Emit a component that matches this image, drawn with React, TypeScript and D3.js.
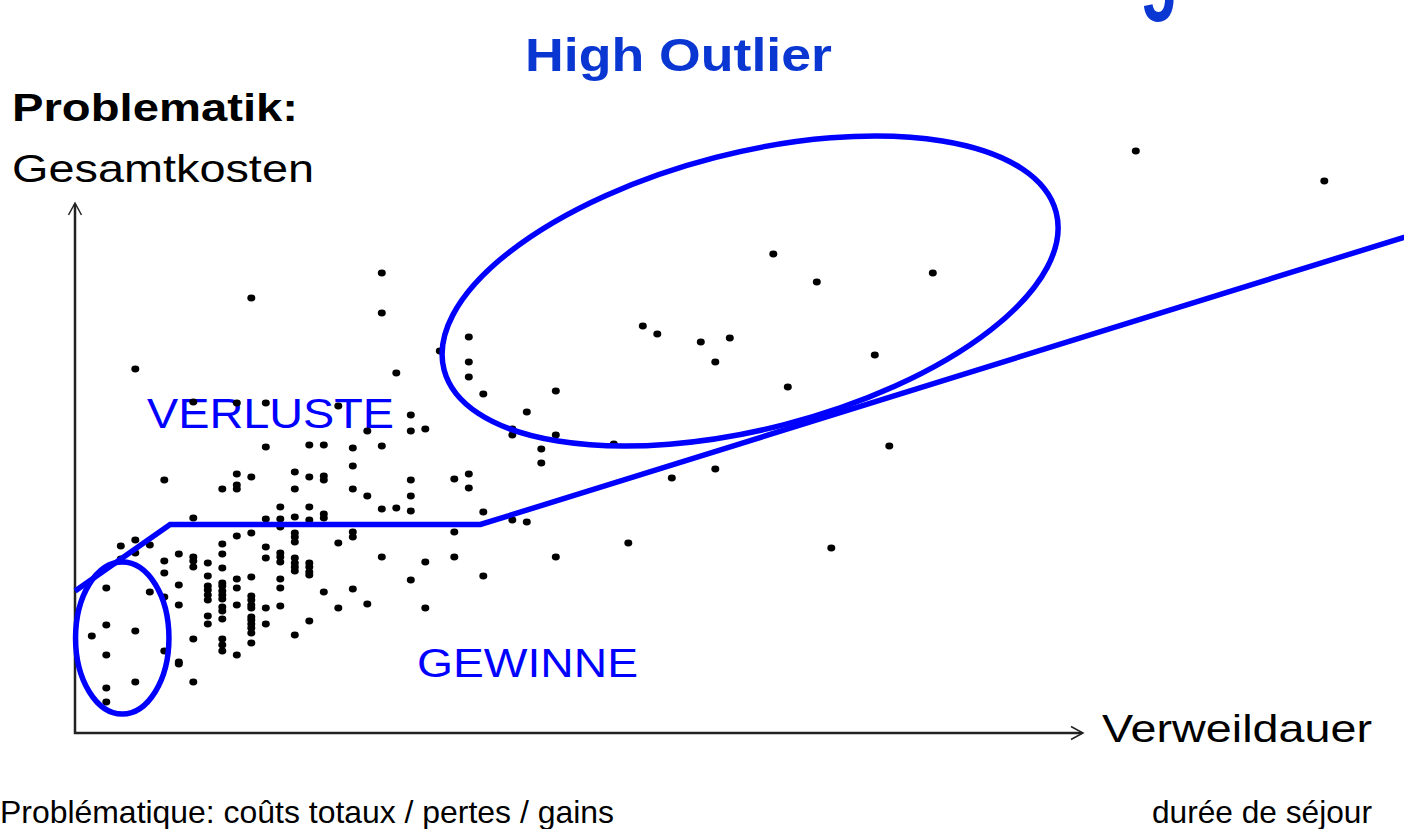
import { useEffect, useRef } from "react";
import * as d3 from "d3";

// Fälle: Verweildauer (Tage) -> Gesamtkosten (Tsd.), je Tag gruppiert
const CASES: [number, number[]][] = [
  [1, [9.7]],
  [2, [14.5, 10.8, 7.8, 4.5, 3.1]],
  [3, [18.7, 17.4]],
  [4, [36.4, 19.3, 18.0, 10.2, 5.1]],
  [5, [18.8, 14.1]],
  [6, [25.3, 17.2, 16.0, 13.6, 8.2]],
  [7, [17.9, 14.8, 12.8, 7.1, 6.9]],
  [8, [33.1, 21.5, 17.6, 17.2, 16.6, 9.4, 5.1]],
  [9, [17.0, 15.7, 14.7, 14.3, 13.8, 13.3, 11.7, 10.9]],
  [10, [24.4, 18.9, 17.9, 16.5, 15.0, 14.7, 14.2, 13.8, 13.4, 12.6, 12.2, 11.4, 9.4, 8.8, 8.2]],
  [11, [33.0, 25.9, 24.8, 24.4, 19.7, 15.4, 14.5, 12.8, 7.8]],
  [12, [43.5, 25.6, 20.0, 15.6, 13.7, 13.3, 12.8, 12.5, 11.6, 11.3, 10.9, 10.5, 10.0, 9.0]],
  [13, [33.0, 28.6, 21.4, 18.6, 17.5, 12.5, 10.9]],
  [14, [22.6, 21.4, 20.6, 18.0, 17.6, 17.1, 15.4, 14.5, 12.7]],
  [15, [26.1, 24.4, 21.6, 20.0, 19.6, 19.1, 17.5, 17.0, 16.6, 16.2, 9.8]],
  [16, [28.8, 25.6, 22.6, 21.3, 17.0, 16.6, 16.1, 15.8, 11.2]],
  [17, [28.8, 25.7, 25.3, 21.9, 21.5, 14.1]],
  [18, [32.7, 19.0, 12.5]],
  [19, [28.5, 26.7, 24.4, 20.1, 19.6, 14.4]],
  [20, [30.2, 23.7, 12.9]],
  [21, [46.0, 42.0, 28.7, 22.4, 17.6]],
  [22, [36.0, 22.5]],
  [23, [31.8, 30.2, 25.3, 23.7, 22.2, 15.3]],
  [24, [30.4, 17.1, 12.5]],
  [25, [38.2]],
  [26, [25.4, 20.1, 17.6]],
  [27, [39.6, 37.1, 35.6, 25.9, 24.5]],
  [28, [33.9, 22.1, 15.7]],
  [30, [30.4, 29.8, 21.3]],
  [31, [32.1, 21.1]],
  [32, [28.4, 27.0]],
  [33, [34.2, 29.8, 17.6]],
  [37, [28.9]],
  [38, [19.0]],
  [39, [40.7]],
  [40, [39.9]],
  [41, [25.5]],
  [43, [39.1]],
  [44, [37.1, 26.4]],
  [45, [39.5]],
  [48, [47.9]],
  [49, [34.6]],
  [51, [45.1]],
  [52, [18.5]],
  [55, [37.8]],
  [56, [28.7]],
  [59, [46.0]],
  [73, [58.2]],
  [86, [55.2]],
];

// Erlöskurve (Fallpauschale): Knickpunkte
const TARIFF_DAYS = [-0.15, 6.4, 27.8, 94];
const TARIFF_COST = [14.2, 20.85, 20.85, 50.7];

// Ausreisser-Bereiche: Mittelpunkt in Tagen / Kosten
const HIGH_OUTLIER = { day: 46.4, cost: 44.2 };
const LOW_OUTLIER = { day: 3.1, cost: 9.5 };

const WIDTH = 1404;
const HEIGHT = 829;
const FONT = "'Liberation Sans', Arial, Helvetica, sans-serif";
const BLUE = "#0000ff";
const TITLE_BLUE = "#0a36d2";

export default function App() {
  const svgRef = useRef<SVGSVGElement>(null);

  useEffect(() => {
    if (!svgRef.current) return;
    const svg = d3.select(svgRef.current);
    svg.selectAll("*").remove();

    const origin = { x: 75, y: 733 };
    const x = d3.scaleLinear().domain([0, 92]).range([77.3, 1411.3]);
    const y = d3.scaleLinear().domain([0, 60]).range([733, 133]);

    // Texte
    const addText = (
      label: string,
      tx: number,
      ty: number,
      size: number,
      len: number,
      color: string,
      weight = "normal",
    ) =>
      svg
        .append("text")
        .attr("x", tx)
        .attr("y", ty)
        .attr("font-family", FONT)
        .attr("font-size", size)
        .attr("font-weight", weight)
        .attr("fill", color)
        .attr("textLength", len)
        .attr("lengthAdjust", "spacingAndGlyphs")
        .text(label);

    // Rest eines abgeschnittenen Titels am oberen Rand
    addText("g", 1140, -1, 112, 38, TITLE_BLUE, "bold");
    addText("High Outlier", 525, 71, 47, 307, TITLE_BLUE, "bold");
    addText("Problematik:", 12, 121, 38, 286, "#000", "bold");
    addText("Gesamtkosten", 12, 182, 39, 302, "#000");
    addText("VERLUSTE", 147, 428, 42, 247, BLUE);
    addText("GEWINNE", 417, 677, 41, 221, BLUE);
    addText("Verweildauer", 1102, 742, 39, 270, "#000");
    addText("Problématique: coûts totaux / pertes / gains", 0, 823, 32, 614, "#000");
    addText("durée de séjour", 1152, 823, 32, 220, "#000");

    // Achsen mit Pfeilen
    const axis = svg.append("g").attr("fill", "none").attr("stroke", "#222");
    axis
      .append("path")
      .attr("stroke-width", 2.5)
      .attr("d", `M${origin.x},204 V${origin.y} H1082`);
    axis
      .append("path")
      .attr("stroke-width", 1.5)
      .attr("d", `M${origin.x - 6.5},215 L${origin.x},203 L${origin.x + 6.5},215`);
    axis
      .append("path")
      .attr("stroke-width", 1.5)
      .attr("d", `M1071,726.5 L1083,${origin.y} L1071,739.5`);

    // Punkte
    const points = CASES.flatMap(([day, costs]) => costs.map((c) => ({ day, cost: c })));
    svg
      .append("g")
      .selectAll("ellipse")
      .data(points)
      .join("ellipse")
      .attr("cx", (d) => x(d.day))
      .attr("cy", (d) => y(d.cost))
      .attr("rx", 4)
      .attr("ry", 3.4)
      .attr("fill", "#000");

    // Erlöskurve
    const line = d3
      .line<number>()
      .x((d) => x(d))
      .y((_, i) => y(TARIFF_COST[i]));
    svg
      .append("path")
      .attr("d", line(TARIFF_DAYS))
      .attr("fill", "none")
      .attr("stroke", BLUE)
      .attr("stroke-width", 5.5)
      .attr("stroke-linejoin", "miter");

    // Ausreisser-Ellipsen
    svg
      .append("ellipse")
      .attr(
        "transform",
        `translate(${x(HIGH_OUTLIER.day)},${y(HIGH_OUTLIER.cost)}) rotate(-14.4)`,
      )
      .attr("rx", 316)
      .attr("ry", 138)
      .attr("fill", "none")
      .attr("stroke", BLUE)
      .attr("stroke-width", 5.5);

    svg
      .append("ellipse")
      .attr("cx", x(LOW_OUTLIER.day))
      .attr("cy", y(LOW_OUTLIER.cost))
      .attr("rx", 46.7)
      .attr("ry", 76)
      .attr("fill", "none")
      .attr("stroke", BLUE)
      .attr("stroke-width", 5.5);
  }, []);

  return (
    <svg
      ref={svgRef}
      width={WIDTH}
      height={HEIGHT}
      style={{ position: "absolute", left: 0, top: 0, background: "#fff" }}
    />
  );
}
